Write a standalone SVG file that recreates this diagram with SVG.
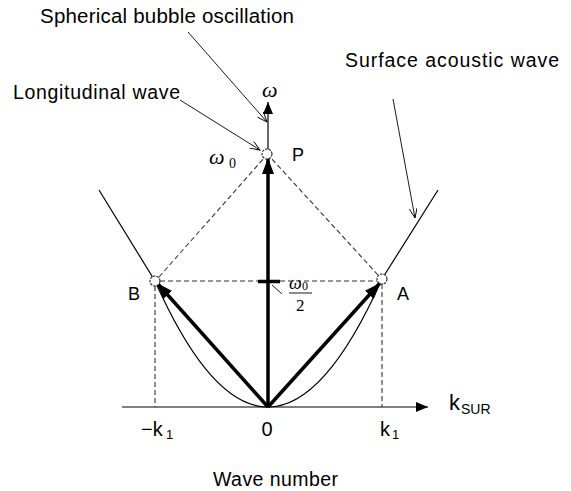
<svg xmlns="http://www.w3.org/2000/svg" width="571" height="491" viewBox="0 0 571 491">
<style>
.t{font-family:"Liberation Sans",Arial,sans-serif;fill:#000}
.m{font-family:"Liberation Serif","Times New Roman",serif;font-style:italic;fill:#000}
.s{font-family:"Liberation Serif","Times New Roman",serif;fill:#000}
.thin{stroke:#000;stroke-width:1.2;fill:none}
.dash{stroke:#333;stroke-width:1.1;stroke-dasharray:5,3;fill:none}
.thick{stroke:#000;stroke-width:3.5;fill:none}
.lead{stroke:#000;stroke-width:0.9;fill:none}
.pt{fill:#fff;stroke:#222;stroke-width:1.1;stroke-dasharray:2.5,1}
</style>
<defs>
<marker id="big" markerUnits="userSpaceOnUse" markerWidth="18" markerHeight="14" refX="16" refY="6" orient="auto"><path d="M0,0 L16,6 L0,12 Z" fill="#000"/></marker>
<marker id="ax" markerUnits="userSpaceOnUse" markerWidth="14" markerHeight="12" refX="12" refY="5" orient="auto"><path d="M0,0 L12,5 L0,10 Z" fill="#000"/></marker>
<marker id="open" markerUnits="userSpaceOnUse" markerWidth="12" markerHeight="10" refX="10" refY="4" orient="auto"><path d="M0,0 L10,4 L0,8" fill="none" stroke="#000" stroke-width="0.9"/></marker>
</defs>
<g id="connectors">
<line class="thin" x1="122" y1="407" x2="428" y2="407" marker-end="url(#ax)"/>
<line class="thin" x1="268" y1="407" x2="268" y2="102" marker-end="url(#ax)"/>
<path class="thin" d="M268,407 Q211,407 155,281 L99,190"/>
<path class="thin" d="M268,407 Q325,407 382,279 L438,190"/>
<line class="dash" x1="160" y1="281" x2="258" y2="281"/>
<line class="dash" x1="280" y1="281" x2="377" y2="281"/>
<line class="dash" x1="155" y1="286" x2="155" y2="407"/>
<line class="dash" x1="382" y1="284" x2="382" y2="407"/>
<line class="dash" x1="159" y1="277" x2="264" y2="158"/>
<line class="dash" x1="378" y1="275" x2="271" y2="158"/>
<line class="thick" x1="268" y1="407" x2="268" y2="158" marker-end="url(#big)"/>
<line class="thick" x1="268" y1="407" x2="157" y2="283" marker-end="url(#big)"/>
<line class="thick" x1="268" y1="407" x2="380" y2="283" marker-end="url(#big)"/>
<line x1="258" y1="281.5" x2="280" y2="281.5" stroke="#000" stroke-width="3.5"/>
<line class="lead" x1="272" y1="285" x2="282" y2="294"/>
<line class="lead" x1="188" y1="32" x2="267" y2="122" marker-end="url(#open)"/>
<line class="lead" x1="180" y1="100" x2="260" y2="150" marker-end="url(#open)"/>
<line class="lead" x1="393" y1="99" x2="415" y2="218" marker-end="url(#open)"/>
</g>
<g id="node-P"><circle class="pt" cx="267" cy="154" r="5"/><text class="t" x="292" y="161" font-size="18">P</text></g>
<g id="node-B"><circle class="pt" cx="155" cy="281" r="5"/><text class="t" x="128" y="300" font-size="18">B</text></g>
<g id="node-A"><circle class="pt" cx="382" cy="279" r="5"/><text class="t" x="397" y="300" font-size="18">A</text></g>
<g id="labels">
<text class="t" x="40" y="22.5" font-size="20.5" textLength="254">Spherical bubble oscillation</text>
<text class="t" x="13" y="99" font-size="19.5" textLength="167">Longitudinal wave</text>
<text class="t" x="345" y="67" font-size="19.5" textLength="214">Surface acoustic wave</text>
<text class="m" x="262" y="97" font-size="22">ω</text>
<text class="m" x="209" y="164" font-size="22">ω</text>
<text class="s" x="229" y="168" font-size="14">0</text>
<text class="m" x="289" y="289" font-size="18">ω</text>
<text class="s" x="302" y="290" font-size="12">0</text>
<line x1="289" y1="293" x2="312" y2="293" stroke="#000" stroke-width="0.9"/>
<text class="s" x="296" y="311" font-size="17">2</text>
<text class="t" x="449" y="410" font-size="22">k</text>
<text class="t" x="461" y="414" font-size="14">SUR</text>
<text class="t" x="141" y="436" font-size="20">−k</text>
<text class="t" x="166" y="439" font-size="13">1</text>
<text class="t" x="267" y="436" font-size="20" text-anchor="middle">0</text>
<text class="t" x="380" y="436" font-size="20">k</text>
<text class="t" x="392" y="439" font-size="13">1</text>
<text class="t" x="213" y="486" font-size="19.5" textLength="125">Wave number</text>
</g>
</svg>
